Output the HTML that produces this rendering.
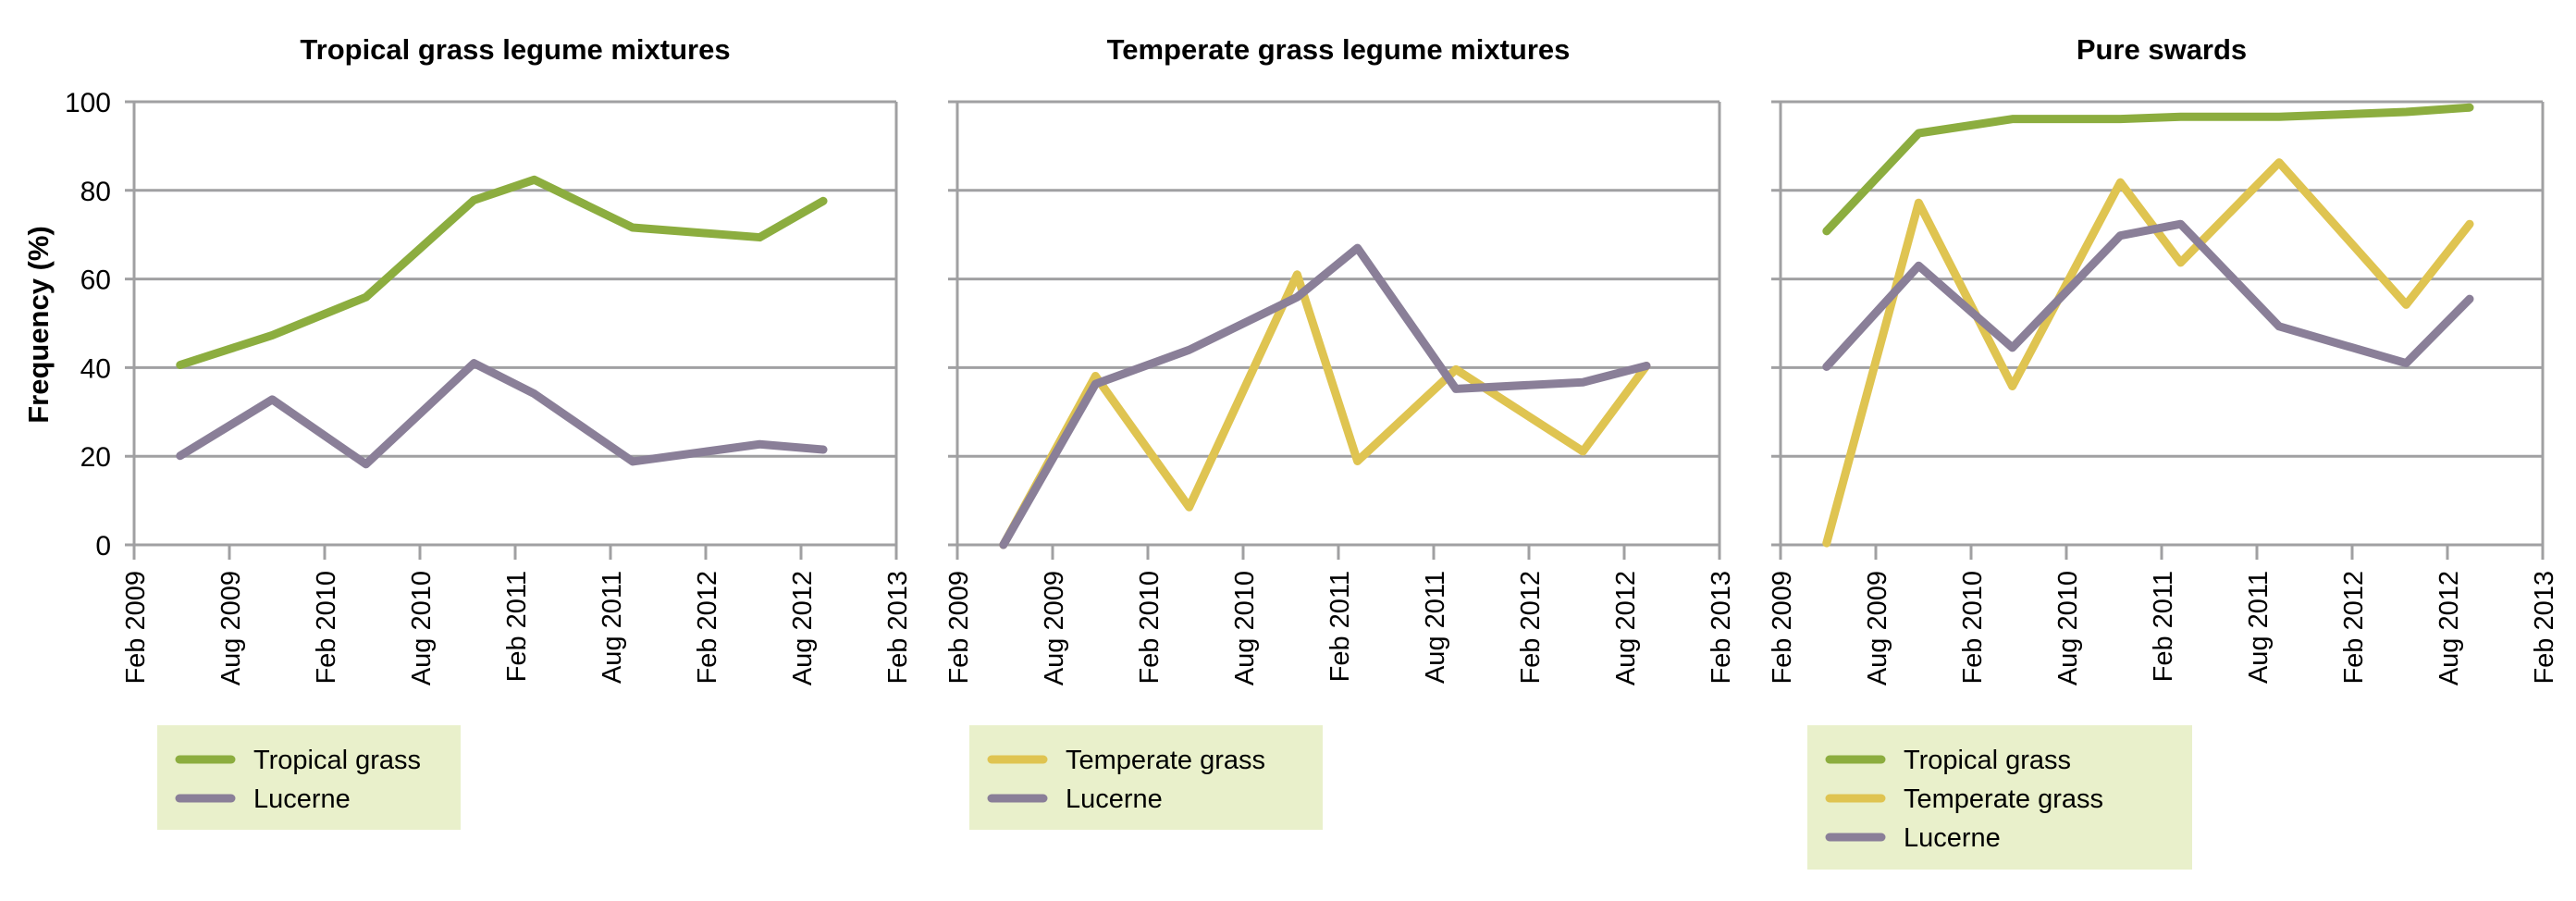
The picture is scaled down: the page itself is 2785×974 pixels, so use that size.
<!DOCTYPE html>
<html><head><meta charset="utf-8"><style>
html,body{margin:0;padding:0;background:#fff;}
svg{display:block;font-family:"Liberation Sans",Arial,sans-serif;}
</style></head><body>
<svg id="chart" width="2785" height="974" viewBox="0 0 2785 974" xmlns="http://www.w3.org/2000/svg">
<text transform="translate(52,351) rotate(-90)" text-anchor="middle" font-weight="bold" font-size="31">Frequency (%)</text>
</svg>
<script>
const tickLabels = ["Feb 2009","Aug 2009","Feb 2010","Aug 2010","Feb 2011","Aug 2011","Feb 2012","Aug 2012","Feb 2013"];
const yTicks = [0,20,40,60,80,100];
const monthsSinceFeb2009 = [2.9,8.7,14.6,21.4,25.2,31.4,39.4,43.4];
const p1Tropical = [40.6,47.3,55.9,77.8,82.4,71.6,69.4,77.6];
const p1Lucerne = [20.1,32.8,18.2,41.0,34.1,18.8,22.7,21.5];
const p2Temperate = [0,38.1,8.5,61.0,18.9,39.6,21.1,40.4];
const p2Lucerne = [0,36.3,44.0,55.9,67.0,35.2,36.7,40.4];
const p3Tropical = [70.8,92.9,96.1,96.1,96.6,96.6,97.7,98.7];
const p3Temperate = [0.4,77.2,35.8,81.8,63.7,86.3,54.2,72.4];
const p3Lucerne = [40.2,63.0,44.5,69.8,72.4,49.3,41.0,55.5];
const titles = ["Tropical grass legume mixtures","Temperate grass legume mixtures","Pure swards"];

const COL = {tropical:"#8cad3f", temperate:"#dfc451", lucerne:"#8a7f98"};
const svg = document.getElementById('chart');
const NS = "http://www.w3.org/2000/svg";
function mk(tag, attrs){const e=document.createElementNS(NS,tag);for(const k in attrs)e.setAttribute(k,attrs[k]);svg.appendChild(e);return e;}

const panels = [
 {left:145, series:[["Tropical grass",p1Tropical,COL.tropical],["Lucerne",p1Lucerne,COL.lucerne]], legend:{x:170,w:328}},
 {left:1035, series:[["Temperate grass",p2Temperate,COL.temperate],["Lucerne",p2Lucerne,COL.lucerne]], legend:{x:1048,w:382}},
 {left:1925, series:[["Tropical grass",p3Tropical,COL.tropical],["Temperate grass",p3Temperate,COL.temperate],["Lucerne",p3Lucerne,COL.lucerne]], legend:{x:1954,w:416}}
];
const W=824, TOP=110, BOT=589;
panels.forEach((p,pi)=>{
  const xs = m => p.left + m/48*W;
  const ys = v => BOT - v/100*(BOT-TOP);
  const t = mk('text',{x:p.left+W/2,y:64,'text-anchor':'middle','font-weight':'bold','font-size':31});
  t.textContent = titles[pi];
  
  
  yTicks.forEach(v=>{
    const g = mk('line',{x1:p.left-10,x2:p.left+W,y1:ys(v),y2:ys(v),stroke:"#a0a0a2","stroke-width":3});
    
    
    if(pi===0){
      const l = mk('text',{x:120,y:ys(v)+11,'text-anchor':'end','font-size':30});
      l.textContent = v;
      
      
    }
  });
  const ax = mk('line',{x1:p.left,x2:p.left,y1:TOP,y2:BOT,stroke:"#a0a0a2","stroke-width":3});
  
  
  const ar = mk('line',{x1:p.left+W,x2:p.left+W,y1:TOP,y2:BOT,stroke:"#a0a0a2","stroke-width":3});
  
  
  tickLabels.forEach((lab,i)=>{
    const x = xs(i*6);
    const tk = mk('line',{x1:x,x2:x,y1:BOT,y2:BOT+16,stroke:"#a0a0a2","stroke-width":3});
    
    
    const tl = mk('text',{transform:`translate(${x+11},${BOT+28}) rotate(-90)`,'text-anchor':'end','font-size':29});
    tl.textContent = lab;
    
    
  });
  p.series.forEach(([name,vals,col])=>{
    const pts = vals.map((v,i)=>xs(monthsSinceFeb2009[i])+","+ys(v)).join(" ");
    const pl = mk('polyline',{points:pts,fill:"none",stroke:col,"stroke-width":9,"stroke-linejoin":"round","stroke-linecap":"round"});
    
    
  });
  const n = p.series.length;
  const bg = mk('rect',{x:p.legend.x,y:784,width:p.legend.w,height:n===3?156:113,fill:"#e9f0cb"});
  
  
  p.series.forEach(([name,vals,col],k)=>{
    const y = 821 + k*42;
    const ln = mk('line',{x1:p.legend.x+24,x2:p.legend.x+80,y1:y,y2:y,stroke:col,"stroke-width":9,"stroke-linecap":"round"});
    
    
    const tx = mk('text',{x:p.legend.x+104,y:y+10,'font-size':29});
    tx.textContent = name;
    
    
  });
});
</script>
</body></html>
